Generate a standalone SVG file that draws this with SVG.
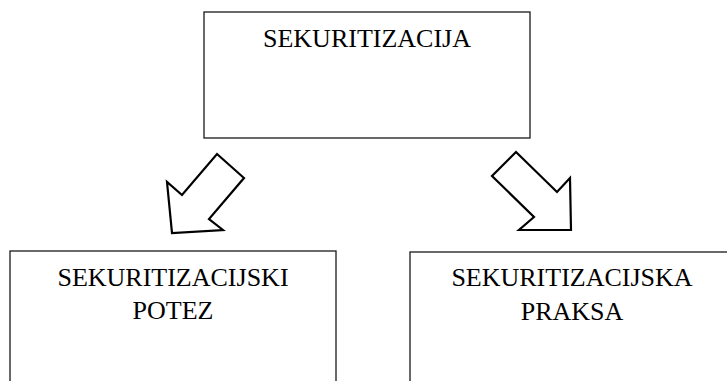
<svg xmlns="http://www.w3.org/2000/svg" width="727" height="381" viewBox="0 0 727 381">
<style>
.box{fill:#fff;stroke:#1a1a1a;stroke-width:1.3}
.lbl{font-size:26px;fill:#000;text-anchor:middle}
.arr{fill:#fff;stroke:#000;stroke-width:2.2;stroke-linejoin:miter}
</style>
<rect width="727" height="381" fill="#fff"/>
<g id="sekuritizacija">
<rect class="box" x="204" y="12" width="326" height="126"/>
<text class="lbl" font-family="Liberation Serif, DejaVu Serif, serif" x="367" y="47">SEKURITIZACIJA</text>
</g>
<g id="potez">
<rect class="box" x="10" y="251" width="326" height="140"/>
<text class="lbl" font-family="Liberation Serif, DejaVu Serif, serif" x="173" y="286">SEKURITIZACIJSKI</text>
<text class="lbl" font-family="Liberation Serif, DejaVu Serif, serif" x="173" y="319">POTEZ</text>
</g>
<g id="praksa">
<rect class="box" x="410" y="252" width="326" height="140"/>
<text class="lbl" font-family="Liberation Serif, DejaVu Serif, serif" x="572" y="286">SEKURITIZACIJSKA</text>
<text class="lbl" font-family="Liberation Serif, DejaVu Serif, serif" x="572" y="320">PRAKSA</text>
</g>
<g id="connectors">
<polygon class="arr" points="217,154 244,178 209,219 223,230 172,233 167,182 182,195"/>
<polygon class="arr" points="516,152 492,176 534,217 519,230 571,230 570,178 557,192"/>
</g>
</svg>
